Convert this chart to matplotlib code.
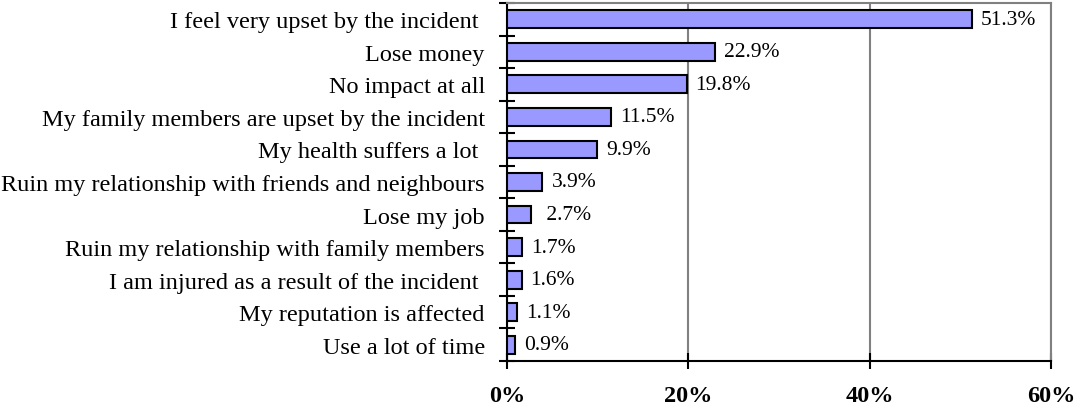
import numpy as np
import matplotlib
matplotlib.use('Agg')
import matplotlib.pyplot as plt
from matplotlib.ticker import FixedLocator

categories = ['I feel very upset by the incident ', 'Lose money', 'No impact at all',
              'My family members are upset by the incident', 'My health suffers a lot ',
              'Ruin my relationship with friends and neighbours', 'Lose my job',
              'Ruin my relationship with family members',
              'I am injured as a result of the incident ', 'My reputation is affected',
              'Use a lot of time']
values = [51.3, 22.9, 19.8, 11.5, 9.9, 3.9, 2.7, 1.7, 1.6, 1.1, 0.9]
value_labels = ['51.3%', '22.9%', '19.8%', '11.5%', '9.9%', '3.9%', ' 2.7%', '1.7%', '1.6%', '1.1%', '0.9%']
xticks = [0, 20, 40, 60]
xtick_labels = ['0%', '20%', '40%', '60%']

plt.rcParams['font.family'] = ['Liberation Serif', 'DejaVu Serif']

fig = plt.figure(figsize=(10.77, 4.10), dpi=100)
ax = fig.add_axes([507/1077, 1-362/410, (1051-507)/1077, (362-4)/410])

n = len(categories)
ypos = np.arange(n)
ax.barh(ypos, values, height=0.55, color='#9999FF', edgecolor='black', linewidth=1.5, zorder=3)
for y, v, lab in zip(ypos, values, value_labels):
    ax.text(v + 1.0, y, lab, va='center', ha='left', fontsize=15.5)

ax.set_ylim(n - 0.5, -0.5)
ax.set_xlim(0, 60)
ax.set_yticks(ypos)
ax.set_yticklabels(categories, fontsize=17.5)
ax.tick_params(axis='y', which='major', length=0, pad=16)
ax.yaxis.set_minor_locator(FixedLocator(np.arange(-0.5, n, 1)))
ax.tick_params(axis='y', which='minor', direction='inout', length=12, width=1.5)

ax.set_xticks(xticks)
ax.set_xticklabels(xtick_labels, fontsize=17.5, fontweight='bold')
ax.tick_params(axis='x', direction='inout', length=12, width=1.5, pad=11)
ax.xaxis.grid(True, color='#808080', linewidth=1.5, zorder=0)

ax.spines['left'].set_linewidth(1.5)
ax.spines['bottom'].set_linewidth(1.5)
ax.spines['top'].set_color('#808080')
ax.spines['right'].set_color('#808080')
ax.spines['top'].set_linewidth(1.5)
ax.spines['right'].set_linewidth(1.5)

fig.savefig('out.png', dpi=100)
